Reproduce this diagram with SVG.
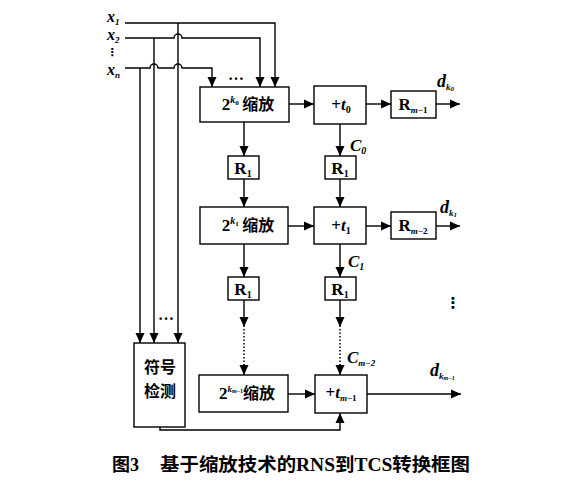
<svg xmlns="http://www.w3.org/2000/svg" width="584" height="498" viewBox="0 0 584 498">
<style>
.box{fill:#fff;stroke:#000;stroke-width:1.4}
.ln{fill:none;stroke:#000;stroke-width:1.4}
.dot{fill:none;stroke:#000;stroke-width:1.5;stroke-dasharray:1.5 2}
text{font-family:"Liberation Serif","Noto Sans CJK SC",serif;font-weight:bold;fill:#000}
.cjk{font-family:"Noto Sans CJK SC","Liberation Serif",sans-serif;font-weight:bold}
.it{font-style:italic}
.sym{font-family:"DejaVu Sans",sans-serif;font-weight:bold}
</style>
<defs>
<marker id="ah" markerUnits="userSpaceOnUse" markerWidth="10" markerHeight="10" refX="10" refY="5" orient="auto">
<path d="M0,0.5 L10,5 L0,9.5 z" fill="#000"/>
</marker>
</defs>
<rect width="584" height="498" fill="#fff"/>

<g id="connectors">
<path class="ln" d="M125,23 H275 V87" marker-end="url(#ah)"/>
<path class="ln" d="M125,38 H174 A4,4 0 0 1 182,38 H260 V87" marker-end="url(#ah)"/>
<path class="ln" d="M125,68 H150 A4,4 0 0 1 158,68 H174 A4,4 0 0 1 182,68 H212 V87" marker-end="url(#ah)"/>
<path class="ln" d="M178,23 V343" marker-end="url(#ah)"/>
<path class="ln" d="M154,38 V343" marker-end="url(#ah)"/>
<path class="ln" d="M140,68 V343" marker-end="url(#ah)"/>
<path class="ln" d="M289,104 H314" marker-end="url(#ah)"/>
<path class="ln" d="M366,104 H391" marker-end="url(#ah)"/>
<path class="ln" d="M436,104 H460" marker-end="url(#ah)"/>
<path class="ln" d="M244,122 V156" marker-end="url(#ah)"/>
<path class="ln" d="M340,124 V156" marker-end="url(#ah)"/>
<path class="ln" d="M244,179 V207" marker-end="url(#ah)"/>
<path class="ln" d="M340,179 V207" marker-end="url(#ah)"/>
<path class="ln" d="M288,226 H314" marker-end="url(#ah)"/>
<path class="ln" d="M366,226 H391" marker-end="url(#ah)"/>
<path class="ln" d="M436,226 H460" marker-end="url(#ah)"/>
<path class="ln" d="M244,244 V277" marker-end="url(#ah)"/>
<path class="ln" d="M340,244 V277" marker-end="url(#ah)"/>
<path class="ln" d="M244,300 V327" marker-end="url(#ah)"/>
<path class="ln" d="M340,300 V327" marker-end="url(#ah)"/>
<path class="dot" d="M244,329 V365"/>
<path class="dot" d="M340,329 V365"/>
<path class="ln" d="M244,364 V375" marker-end="url(#ah)"/>
<path class="ln" d="M340,364 V375" marker-end="url(#ah)"/>
<path class="ln" d="M288,394 H315" marker-end="url(#ah)"/>
<path class="ln" d="M367,394 H461" marker-end="url(#ah)"/>
<path class="ln" d="M160,427 V430 H340 V413" marker-end="url(#ah)"/>
</g>

<g id="inputs">
<text class="it" x="107" y="22" font-size="16">x<tspan font-size="9" dy="3">1</tspan></text>
<text class="it" x="107" y="40" font-size="16">x<tspan font-size="9" dy="3">2</tspan></text>
<text class="sym" x="112" y="56" font-size="11" text-anchor="middle">⋮</text>
<text class="it" x="107" y="75" font-size="16">x<tspan font-size="9" dy="3">n</tspan></text>
<text x="236" y="80" font-size="16" text-anchor="middle">…</text>
<text x="166" y="320" font-size="16" text-anchor="middle">…</text>
<text class="sym" x="453" y="308" font-size="15" text-anchor="middle">⋮</text>
</g>

<g id="scale0">
<rect class="box" x="200" y="87" width="89" height="35"/>
<text x="248" y="110" font-size="17" text-anchor="middle">2<tspan font-size="10" dy="-7" class="it">k</tspan><tspan font-size="7" dy="2">0</tspan><tspan dy="5" class="cjk" font-size="16"> 缩放</tspan></text>
</g>
<g id="add0">
<rect class="box" x="314" y="86" width="52" height="38"/>
<text x="341" y="110" font-size="17" text-anchor="middle">+<tspan class="it">t</tspan><tspan font-size="10" dy="3">0</tspan></text>
</g>
<g id="rm1">
<rect class="box" x="391" y="91" width="45" height="27"/>
<text x="413" y="110" font-size="17" text-anchor="middle">R<tspan font-size="9" dy="3" class="it">m</tspan><tspan font-size="9">−1</tspan></text>
</g>
<text class="it" x="437" y="87" font-size="18">d<tspan font-size="9" dy="3">k</tspan><tspan font-size="7" dy="1">0</tspan></text>
<text class="it" x="350" y="151" font-size="17">C<tspan font-size="10" dy="3">0</tspan></text>

<g id="r1a">
<rect class="box" x="228" y="156" width="31" height="23"/>
<text x="243" y="174" font-size="17" text-anchor="middle">R<tspan font-size="10" dy="3">1</tspan></text>
</g>
<g id="r1b">
<rect class="box" x="325" y="156" width="31" height="23"/>
<text x="340" y="174" font-size="17" text-anchor="middle">R<tspan font-size="10" dy="3">1</tspan></text>
</g>

<g id="scale1">
<rect class="box" x="200" y="207" width="88" height="37"/>
<text x="248" y="231" font-size="17" text-anchor="middle">2<tspan font-size="10" dy="-7" class="it">k</tspan><tspan font-size="7" dy="2">1</tspan><tspan dy="5" class="cjk" font-size="16"> 缩放</tspan></text>
</g>
<g id="add1">
<rect class="box" x="314" y="207" width="52" height="37"/>
<text x="341" y="231" font-size="17" text-anchor="middle">+<tspan class="it">t</tspan><tspan font-size="10" dy="3">1</tspan></text>
</g>
<g id="rm2">
<rect class="box" x="391" y="212" width="45" height="27"/>
<text x="413" y="231" font-size="17" text-anchor="middle">R<tspan font-size="9" dy="3" class="it">m</tspan><tspan font-size="9">−2</tspan></text>
</g>
<text class="it" x="440" y="213" font-size="18">d<tspan font-size="9" dy="3">k</tspan><tspan font-size="7" dy="1">1</tspan></text>
<text class="it" x="348" y="267" font-size="17">C<tspan font-size="10" dy="3">1</tspan></text>

<g id="r1c">
<rect class="box" x="228" y="277" width="31" height="23"/>
<text x="243" y="295" font-size="17" text-anchor="middle">R<tspan font-size="10" dy="3">1</tspan></text>
</g>
<g id="r1d">
<rect class="box" x="325" y="277" width="31" height="23"/>
<text x="340" y="295" font-size="17" text-anchor="middle">R<tspan font-size="10" dy="3">1</tspan></text>
</g>

<text class="it" x="347" y="363" font-size="17">C<tspan font-size="9" dy="3">m</tspan><tspan font-size="9">−2</tspan></text>

<g id="sign">
<rect class="box" x="134" y="343" width="51" height="84"/>
<text class="cjk" x="160" y="373" font-size="16" text-anchor="middle">符号</text>
<text class="cjk" x="160" y="397" font-size="16" text-anchor="middle">检测</text>
</g>
<g id="scalem">
<rect class="box" x="199" y="375" width="89" height="37"/>
<text x="247" y="399" font-size="17" text-anchor="middle">2<tspan font-size="9" dy="-7" class="it">k</tspan><tspan font-size="6" dy="1" class="it">m</tspan><tspan font-size="6">−1</tspan><tspan dy="6" class="cjk" font-size="16">缩放</tspan></text>
</g>
<g id="addm">
<rect class="box" x="315" y="375" width="52" height="38"/>
<text x="341" y="398" font-size="17" text-anchor="middle">+<tspan class="it">t</tspan><tspan font-size="9" dy="3" class="it">m</tspan><tspan font-size="9">−1</tspan></text>
</g>
<text class="it" x="430" y="376" font-size="18">d<tspan font-size="9" dy="3">k</tspan><tspan font-size="6" dy="1">m</tspan><tspan font-size="6">−1</tspan></text>

<g id="caption">
<text x="112" y="471" font-size="18">图3</text>
<text x="160" y="471" font-size="18" textLength="310" lengthAdjust="spacingAndGlyphs">基于缩放技术的RNS到TCS转换框图</text>
</g>
</svg>
